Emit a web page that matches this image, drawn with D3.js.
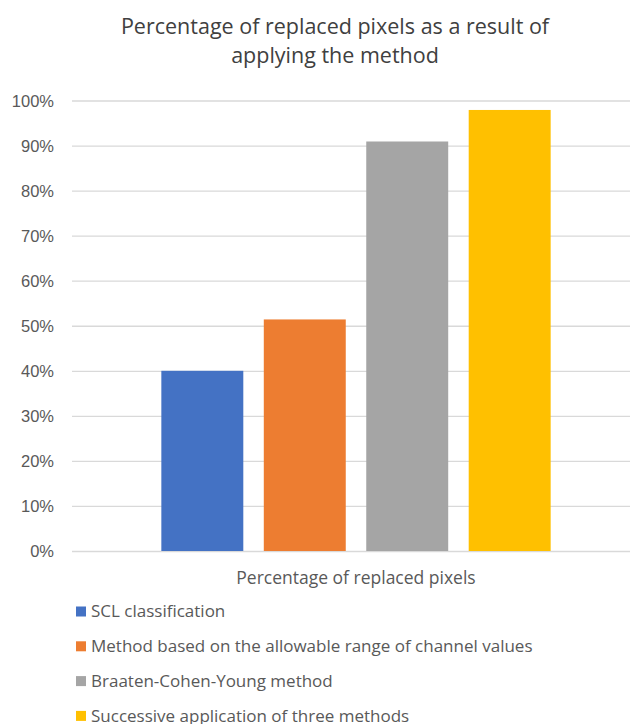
<!DOCTYPE html>
<html>
<head>
<meta charset="utf-8">
<script src="https://cdn.jsdelivr.net/npm/d3@7"></script>
<style>
  body { margin: 0; background: #fff; }
  svg { display: block; font-family: "Open Sans", "Noto Sans", sans-serif; }
  .tick text { fill: #595959; font-size: 16.5px; }
  .grid line { stroke: #d9d9d9; stroke-width: 1.3; }
</style>
</head>
<body>
<svg id="chart" width="630" height="724"></svg>
<script>
/*
Clustered column chart: share of replaced pixels per method
*/
var categories = ["Percentage of replaced pixels"];
var seriesNames = [
  "SCL classification",
  "Method based on the allowable range of channel values",
  "Braaten-Cohen-Young method",
  "Successive application of three methods"
];
var seriesValues = [40, 51.4, 90.9, 97.9];
var seriesColors = ["#4472c4", "#ed7d31", "#a5a5a5", "#ffc000"];
var yTicks = [0, 10, 20, 30, 40, 50, 60, 70, 80, 90, 100];
var titleLines = ["Percentage of replaced pixels as a result of", "applying the method"];

var svg = d3.select("#chart");
var plotLeft = 72, plotRight = 640, plotTop = 100.5, plotBottom = 551;

var y = d3.scaleLinear().domain([0, 100]).range([plotBottom, plotTop]);

var x0 = d3.scaleBand()
    .domain(categories)
    .range([plotLeft, plotRight])
    .paddingOuter(0.193);

var x1 = d3.scaleBand()
    .domain(seriesNames)
    .range([0, x0.bandwidth()])
    .paddingInner(0.2)
    .paddingOuter(0.1);

// title, one text per line
svg.selectAll(".title")
    .data(titleLines)
  .enter().append("text")
    .attr("class", "title")
    .attr("x", 335)
    .attr("y", function(d, i) { return 34 + i * 29; })
    .attr("text-anchor", "middle")
    .attr("fill", "#404040")
    .style("font-size", "21.5px")
    .text(function(d) { return d; });

// gridlines + y axis labels
var yAxis = d3.axisLeft(y)
    .tickValues(yTicks)
    .tickSize(-(plotRight - plotLeft))
    .tickPadding(18)
    .tickFormat(function(d) { return d + "%"; });

svg.append("g")
    .attr("class", "grid")
    .attr("transform", "translate(" + plotLeft + ",0)")
    .call(yAxis)
    .call(function(g) { g.select(".domain").remove(); })
    .call(function(g) { g.selectAll(".tick text").attr("dy", "0.35em"); });

// bars
var group = svg.append("g")
  .selectAll("g")
    .data(categories)
  .enter().append("g")
    .attr("transform", function(d) { return "translate(" + x0(d) + ",0)"; });

group.selectAll("rect")
    .data(seriesNames.map(function(n, i) { return { name: n, value: seriesValues[i], color: seriesColors[i] }; }))
  .enter().append("rect")
    .attr("x", function(d) { return x1(d.name); })
    .attr("y", function(d) { return y(d.value); })
    .attr("width", x1.bandwidth())
    .attr("height", function(d) { return y(0) - y(d.value); })
    .attr("fill", function(d) { return d.color; });

// category label
svg.selectAll(".cat")
    .data(categories)
  .enter().append("text")
    .attr("class", "cat")
    .attr("x", function(d) { return x0(d) + x0.bandwidth() / 2; })
    .attr("y", 584)
    .attr("text-anchor", "middle")
    .attr("fill", "#595959")
    .style("font-size", "17.5px")
    .text(function(d) { return d; });

// legend
var legend = svg.append("g")
  .selectAll("g")
    .data(seriesNames)
  .enter().append("g")
    .attr("transform", function(d, i) { return "translate(76," + (611.5 + i * 34.8) + ")"; });

legend.append("rect")
    .attr("x", 0)
    .attr("y", -5)
    .attr("width", 10)
    .attr("height", 10)
    .attr("fill", function(d, i) { return seriesColors[i]; });

legend.append("text")
    .attr("x", 15)
    .attr("dy", "0.35em")
    .attr("fill", "#595959")
    .style("font-size", "17px")
    .text(function(d) { return d; });
</script>
</body>
</html>
